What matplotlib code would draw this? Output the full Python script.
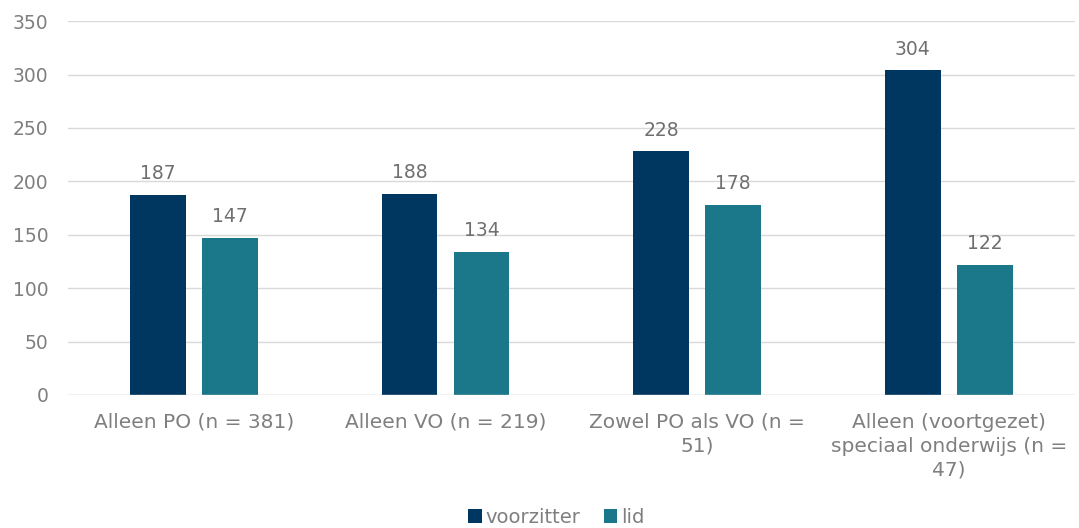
import numpy as np
from matplotlib import pyplot as plt

categories = ["Alleen PO (n = 381)", "Alleen VO (n = 219)",
              "Zowel PO als VO (n =\n51)",
              "Alleen (voortgezet)\nspeciaal onderwijs (n =\n47)"]
voorzitter = [187, 188, 228, 304]
lid = [147, 134, 178, 122]

grey = '#7f7f7f'
fs = 13.5
plt.rcParams['font.family'] = ['DejaVu Sans']

fig = plt.figure(figsize=(10.79, 5.28), dpi=100)
ax = fig.add_axes([0.063, 0.252, 0.933, 0.708])

x = np.arange(len(categories))
w = 0.222
b1 = ax.bar(x - 0.143, voorzitter, w, color='#003761', label='voorzitter', zorder=3)
b2 = ax.bar(x + 0.143, lid, w, color='#1b788a', label='lid', zorder=3)

for bars, vals in [(b1, voorzitter), (b2, lid)]:
    for r, v in zip(bars, vals):
        ax.text(r.get_x() + r.get_width() / 2, v + 11, str(v), ha='center',
                va='bottom', fontsize=fs, color='#6f6f6f')

ax.set_ylim(0, 350)
ax.set_xlim(-0.5, 3.5)
ax.set_yticks(range(0, 351, 50))
ax.yaxis.grid(True, color='#d9d9d9', linewidth=1, zorder=0)
for s in ax.spines.values():
    s.set_visible(False)
ax.axhline(0, color='#d9d9d9', linewidth=1, zorder=4)
ax.tick_params(length=0, labelsize=fs, labelcolor=grey)
ax.tick_params(axis='y', pad=14)
ax.set_xticks(x)
ax.set_xticklabels(categories, linespacing=1.32, fontsize=14.5)
ax.tick_params(axis='x', pad=13)

leg = ax.legend(loc='lower center', bbox_to_anchor=(0.485, -0.40), ncol=2,
                frameon=False, fontsize=14, handlelength=0.7, handleheight=0.7,
                handletextpad=0.2, columnspacing=1.2)
for t in leg.get_texts():
    t.set_color(grey)

fig.savefig('out.png', dpi=100)
